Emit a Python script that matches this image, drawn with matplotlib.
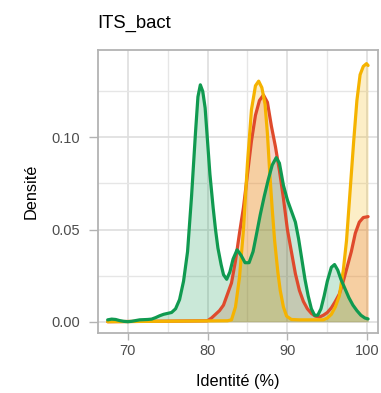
import numpy as np
import matplotlib
matplotlib.use("Agg")
import matplotlib.pyplot as plt
from matplotlib.ticker import FixedLocator

plt.rcParams['font.family'] = ['Liberation Sans', 'DejaVu Sans']

# density curves (x = identity %, y = density)
green_x = [67.5, 68.0, 68.5, 69.0, 69.5, 70.0, 70.5, 71.0, 71.5, 72.0, 72.5, 73.0,
           73.5, 74.0, 74.5, 75.0, 75.5, 76.0, 76.5, 77.0, 77.5, 78.0, 78.5, 78.8,
           79.1, 79.4, 79.7, 80.0, 80.3, 80.7, 81.0, 81.3, 81.7, 82.0, 82.4, 82.8,
           83.2, 83.7, 84.2, 84.7, 85.2, 85.7, 86.2, 86.6, 87.1, 87.6, 88.1, 88.6,
           89.0, 89.5, 90.0, 90.5, 91.0, 91.4, 91.8, 92.2, 92.6, 93.0, 93.4, 93.8,
           94.2, 94.6, 95.0, 95.5, 95.9, 96.3, 96.7, 97.2, 97.7, 98.2, 98.7, 99.2,
           99.7, 100.1]
green_y = [0.0010, 0.0014, 0.0012, 0.0006, 0.0002, 0.0000, 0.0002, 0.0006, 0.0010, 0.0011,
           0.0012, 0.0014, 0.0022, 0.0032, 0.0040, 0.0045, 0.0050, 0.0070, 0.0120, 0.0220,
           0.0380, 0.0680, 0.1030, 0.1220, 0.1285, 0.1250, 0.1160, 0.0980, 0.0800, 0.0620,
           0.0500, 0.0400, 0.0310, 0.0255, 0.0230, 0.0270, 0.0340, 0.0390, 0.0360, 0.0320,
           0.0320, 0.0380, 0.0490, 0.0580, 0.0680, 0.0770, 0.0850, 0.0890, 0.0860, 0.0740,
           0.0660, 0.0600, 0.0540, 0.0450, 0.0340, 0.0230, 0.0140, 0.0070, 0.0035, 0.0035,
           0.0070, 0.0140, 0.0220, 0.0295, 0.0310, 0.0280, 0.0230, 0.0180, 0.0130, 0.0090,
           0.0060, 0.0035, 0.0020, 0.0015]

red_x = [67.5, 80.0, 80.5, 81.0, 81.5, 82.0, 82.5, 83.0, 83.5, 84.0, 84.5, 85.0,
         85.5, 86.0, 86.5, 87.0, 87.5, 88.0, 88.5, 89.0, 89.5, 90.0, 90.5, 91.0,
         91.5, 92.0, 92.5, 93.0, 93.5, 94.0, 94.5, 95.0, 95.5, 96.0, 96.5, 97.0,
         97.5, 98.0, 98.5, 99.0, 99.5, 100.1]
red_y = [0.0, 0.0005, 0.0020, 0.0040, 0.0060, 0.0090, 0.0150, 0.0210, 0.0330, 0.0480,
         0.0620, 0.0800, 0.0980, 0.1120, 0.1200, 0.1230, 0.1190, 0.1060, 0.0950, 0.0820,
         0.0670, 0.0500, 0.0380, 0.0260, 0.0170, 0.0110, 0.0070, 0.0045, 0.0030, 0.0025,
         0.0035, 0.0050, 0.0075, 0.0110, 0.0150, 0.0220, 0.0300, 0.0380, 0.0480, 0.0540,
         0.0565, 0.0570]

yellow_x = [67.5, 82.5, 83.0, 83.5, 84.0, 84.5, 85.0, 85.5, 86.0, 86.4, 86.8, 87.2,
            87.5, 87.8, 88.1, 88.4, 88.8, 89.1, 89.5, 89.9, 90.5, 91.5, 94.5, 95.0,
            95.5, 96.0, 96.5, 97.0, 97.4, 97.8, 98.3, 98.7, 99.1, 99.5, 99.9, 100.1]
yellow_y = [0.0, 0.0005, 0.0010, 0.0080, 0.0240, 0.0500, 0.0860, 0.1150, 0.1280, 0.1305,
            0.1270, 0.1180, 0.1020, 0.0800, 0.0610, 0.0440, 0.0270, 0.0170, 0.0080, 0.0030,
            0.0012, 0.0010, 0.0010, 0.0020, 0.0040, 0.0080, 0.0140, 0.0280, 0.0440, 0.0680,
            0.0980, 0.1200, 0.1340, 0.1385, 0.1400, 0.1390]

series = [
    (red_x, red_y, '#df4a2c'),
    (yellow_x, yellow_y, '#f5b300'),
    (green_x, green_y, '#109a50'),
]

fig = plt.figure(figsize=(3.81, 3.93), dpi=100)
ax = fig.add_axes([0.2564, 0.1519, 0.7357, 0.7209])

for xs, ys, col in series:
    ax.fill_between(xs, ys, 0, color=col, alpha=0.22, linewidth=0, zorder=2)
    ax.plot(xs, ys, color=col, linewidth=2.3, solid_capstyle='round', zorder=3)

ax.set_xlim(66.25, 101.34)
ax.set_ylim(-0.0063, 0.1474)
ax.set_xticks([70, 80, 90, 100])
ax.set_yticks([0.0, 0.05, 0.10])
ax.set_yticklabels(['0.00', '0.05', '0.10'])
ax.xaxis.set_minor_locator(FixedLocator([75, 85, 95]))
ax.yaxis.set_minor_locator(FixedLocator([0.025, 0.075, 0.125]))
ax.grid(which='major', color='#dedede', linewidth=1.2, zorder=0)
ax.grid(which='minor', color='#e6e6e6', linewidth=1.0, zorder=0)
ax.set_axisbelow(True)

for s in ax.spines.values():
    s.set_color('#b3b3b3')
    s.set_linewidth(1.3)

ax.tick_params(which='major', width=1.0, color='#b3b3b3',
               labelcolor='#4d4d4d', labelsize=10.5)
ax.tick_params(axis='x', which='major', length=5, pad=3)
ax.tick_params(axis='y', which='major', length=6.5, pad=6)
ax.tick_params(which='minor', length=0)

ax.set_xlabel('Identité (%)', fontsize=11.7, labelpad=11)
ax.set_ylabel('Densité', fontsize=11.7, labelpad=9)
ax.set_title('ITS_bact', loc='left', fontsize=13.3, pad=16)

fig.savefig('out.png', dpi=100)
